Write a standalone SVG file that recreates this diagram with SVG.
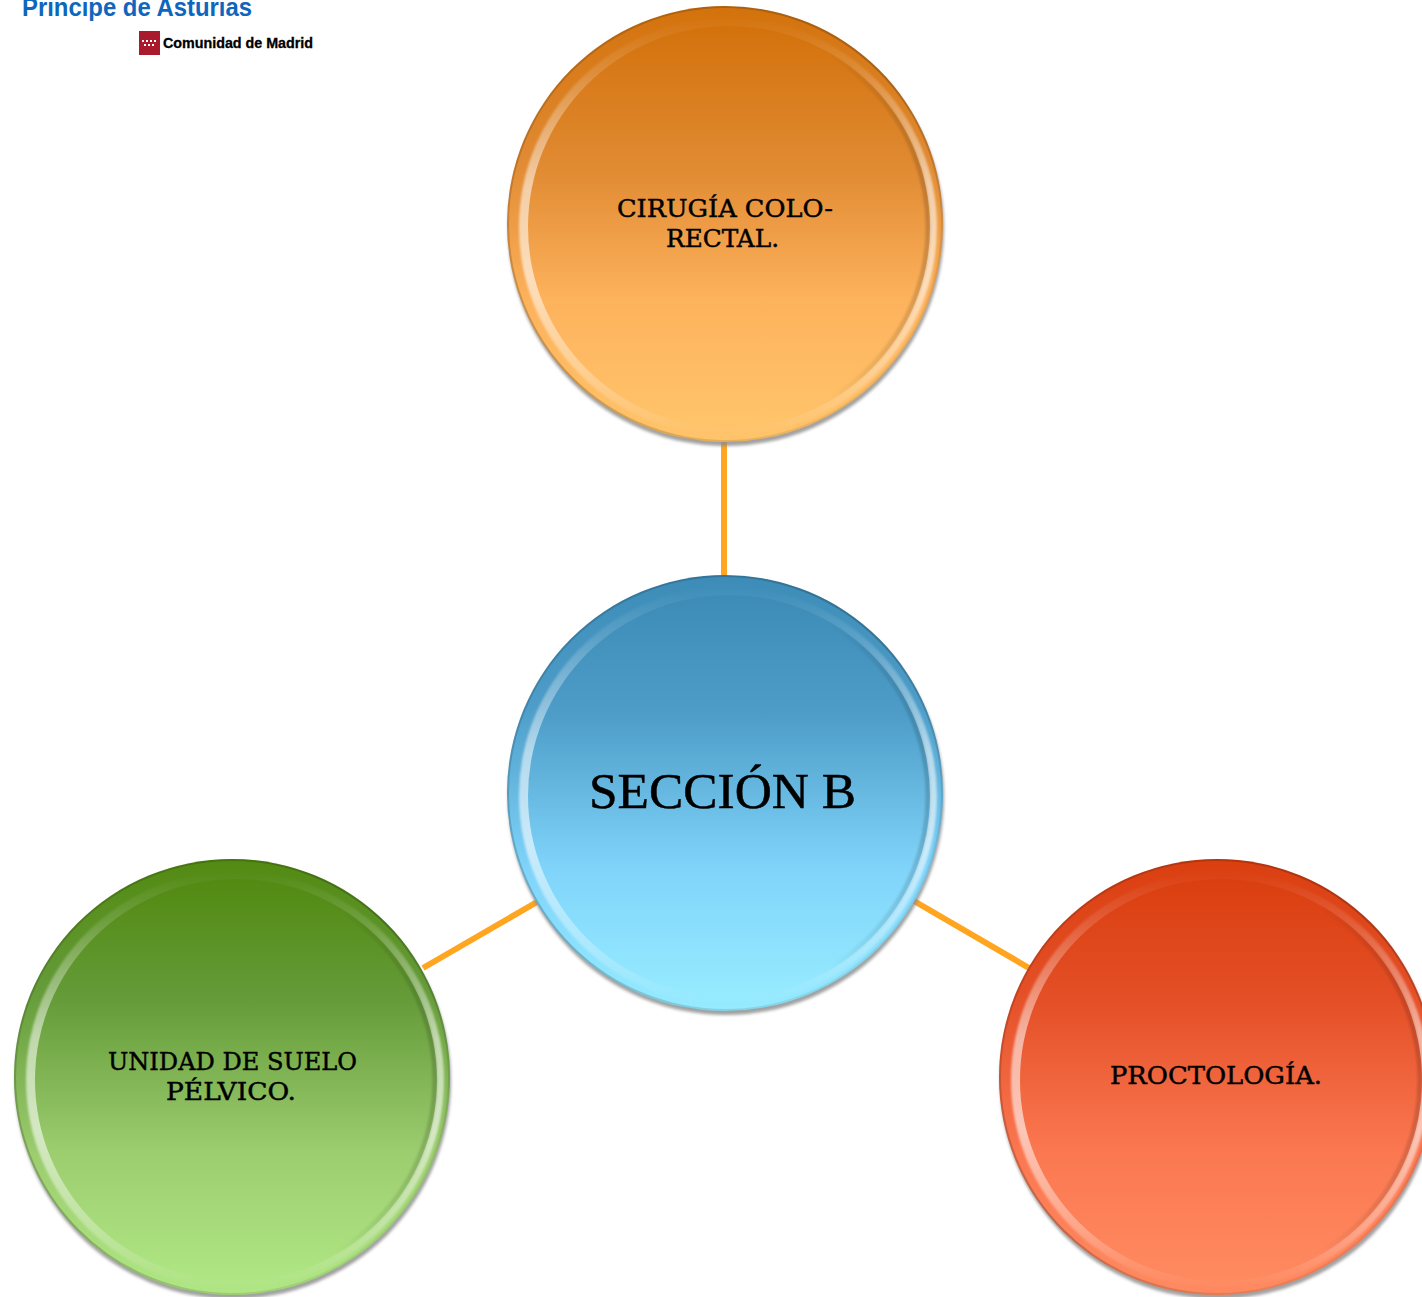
<svg xmlns="http://www.w3.org/2000/svg" width="1422" height="1297" viewBox="0 0 1422 1297">
<style>
.lbl{font-family:"DejaVu Serif","Liberation Serif",serif;fill:#000;stroke:#000;stroke-width:.45}
.sm{font-size:24px}
.conn{stroke:#ffa51f;stroke-width:6;fill:none}
.shadow{fill:#8a8a8a;opacity:.8;filter:url(#blur)}
.ring{fill:url(#hl);filter:url(#soft)}
.sheen{fill:none;stroke:url(#sh);stroke-width:5;filter:url(#soft)}
.edge{fill:none;stroke:url(#ed);stroke-width:2}
</style>
<defs>
<filter id="blur" x="-5%" y="-5%" width="110%" height="110%"><feGaussianBlur stdDeviation="1.5"/></filter>
<filter id="soft" x="-5%" y="-5%" width="110%" height="110%"><feGaussianBlur stdDeviation="1.1"/></filter>
<linearGradient id="hl" x1="0" y1="0" x2="0" y2="1"><stop offset="0" stop-color="#fff" stop-opacity="0"/><stop offset=".12" stop-color="#fff" stop-opacity=".12"/><stop offset=".4" stop-color="#fff" stop-opacity=".55"/><stop offset=".62" stop-color="#fff" stop-opacity=".6"/><stop offset=".85" stop-color="#fff" stop-opacity=".3"/><stop offset="1" stop-color="#fff" stop-opacity="0"/></linearGradient>
<linearGradient id="sh" x1="0" y1="0" x2="1" y2="0"><stop offset="0" stop-color="#000" stop-opacity="0"/><stop offset=".75" stop-color="#000" stop-opacity="0"/><stop offset="1" stop-color="#000" stop-opacity=".16"/></linearGradient>
<linearGradient id="ed" x1="0" y1="0" x2="1" y2="1"><stop offset="0" stop-color="#000" stop-opacity=".12"/><stop offset=".5" stop-color="#000" stop-opacity=".22"/><stop offset="1" stop-color="#000" stop-opacity="0"/></linearGradient>
<linearGradient id="o" x1="0" y1="0" x2="0" y2="1"><stop offset="0" stop-color="#d3720c"/><stop offset=".35" stop-color="#e08a32"/><stop offset=".68" stop-color="#fdb25c"/><stop offset="1" stop-color="#ffc46a"/></linearGradient>
<linearGradient id="b" x1="0" y1="0" x2="0" y2="1"><stop offset="0" stop-color="#3d8cb8"/><stop offset=".3" stop-color="#4d9dc8"/><stop offset=".68" stop-color="#80d4fa"/><stop offset="1" stop-color="#96ebff"/></linearGradient>
<linearGradient id="g" x1="0" y1="0" x2="0" y2="1"><stop offset="0" stop-color="#528a12"/><stop offset=".3" stop-color="#659b39"/><stop offset=".68" stop-color="#9ccd6f"/><stop offset="1" stop-color="#b0e684"/></linearGradient>
<linearGradient id="r" x1="0" y1="0" x2="0" y2="1"><stop offset="0" stop-color="#da3f10"/><stop offset=".3" stop-color="#e44f27"/><stop offset=".68" stop-color="#fb7851"/><stop offset="1" stop-color="#ff8a60"/></linearGradient>
</defs>

<g id="connectors">
<line class="conn" x1="724" y1="440" x2="724" y2="578"/>
<line class="conn" x1="537" y1="902" x2="423" y2="968"/>
<line class="conn" x1="914" y1="901" x2="1029" y2="968"/>
</g>

<g id="logo">
<text x="22" y="16" font-family="Liberation Sans, sans-serif" font-weight="700" font-size="25" fill="#0f66bd" textLength="230" lengthAdjust="spacingAndGlyphs">Principe de Asturias</text>
<rect x="139" y="31" width="21" height="24" fill="#a81a2c"/>
<path d="M142 40h2v2h-2zM146 40h2v2h-2zM150 40h2v2h-2zM154 40h2v2h-2zM144 44h2v2h-2zM148 44h2v2h-2zM152 44h2v2h-2z" fill="#fff"/>
<text x="163" y="48" font-family="Liberation Sans, sans-serif" font-weight="700" font-size="14" fill="#000" stroke="#000" stroke-width=".3" textLength="150" lengthAdjust="spacingAndGlyphs">Comunidad de Madrid</text>
</g>

<g id="node-top">
<circle class="shadow" cx="726" cy="228" r="218"/>
<circle cx="725" cy="224" r="218" fill="url(#o)"/>
<circle class="edge" cx="725" cy="224" r="217"/>
<circle class="ring" cx="728" cy="227" r="209"/>
<circle cx="729" cy="227" r="201" fill="url(#o)"/>
<circle class="sheen" cx="729" cy="227" r="199"/>
<text class="lbl sm" x="617" y="217" textLength="216" lengthAdjust="spacingAndGlyphs">CIRUGÍA COLO-</text>
<text class="lbl sm" x="666" y="247" textLength="113" lengthAdjust="spacingAndGlyphs">RECTAL.</text>
</g>

<g id="node-center">
<circle class="shadow" cx="726" cy="797" r="218"/>
<circle cx="725" cy="793" r="218" fill="url(#b)"/>
<circle class="edge" cx="725" cy="793" r="217"/>
<circle class="ring" cx="728" cy="796" r="209"/>
<circle cx="729" cy="796" r="201" fill="url(#b)"/>
<circle class="sheen" cx="729" cy="796" r="199"/>
<text x="589" y="808" font-family="Liberation Serif, serif" font-size="51" fill="#000" stroke="#000" stroke-width=".5" textLength="267" lengthAdjust="spacingAndGlyphs">SECCIÓN B</text>
</g>

<g id="node-left">
<circle class="shadow" cx="233" cy="1081" r="218"/>
<circle cx="232" cy="1077" r="218" fill="url(#g)"/>
<circle class="edge" cx="232" cy="1077" r="217"/>
<circle class="ring" cx="235" cy="1080" r="209"/>
<circle cx="236" cy="1080" r="201" fill="url(#g)"/>
<circle class="sheen" cx="236" cy="1080" r="199"/>
<text class="lbl sm" x="108" y="1070" textLength="249" lengthAdjust="spacingAndGlyphs">UNIDAD DE SUELO</text>
<text class="lbl sm" x="166" y="1100" textLength="130" lengthAdjust="spacingAndGlyphs">PÉLVICO.</text>
</g>

<g id="node-right">
<circle class="shadow" cx="1218" cy="1081" r="218"/>
<circle cx="1217" cy="1077" r="218" fill="url(#r)"/>
<circle class="edge" cx="1217" cy="1077" r="217"/>
<circle class="ring" cx="1220" cy="1080" r="209"/>
<circle cx="1221" cy="1080" r="201" fill="url(#r)"/>
<circle class="sheen" cx="1221" cy="1080" r="199"/>
<text class="lbl sm" x="1110" y="1084" textLength="212" lengthAdjust="spacingAndGlyphs">PROCTOLOGÍA.</text>
</g>
</svg>
